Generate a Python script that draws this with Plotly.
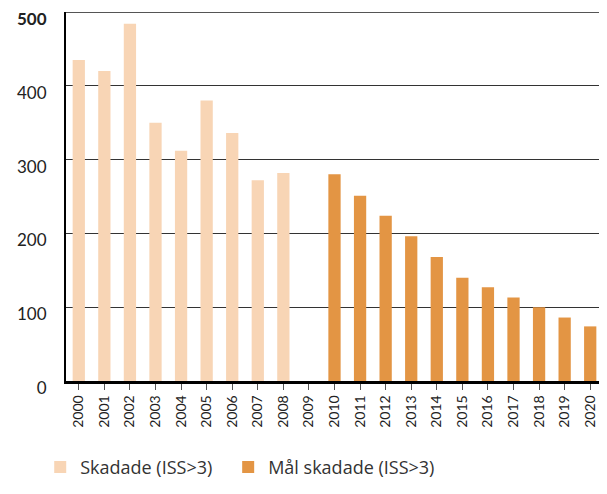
import plotly.graph_objects as go

years = [str(y) for y in range(2000, 2021)]
skadade = [435, 420, 484, 350, 312, 380, 336, 272, 282, None, None,
           None, None, None, None, None, None, None, None, None, None]
mal_skadade = [None] * 10 + [280, 251, 224, 196, 168, 140, 127, 113, 100, 86, 74]
y_ticks = [0, 100, 200, 300, 400, 500]
y_ticktext = ["0", "100", "200", "300", "400", "<b>500</b>"]

fig = go.Figure()
fig.add_trace(go.Bar(x=years, y=skadade, name="Skadade (ISS>3)",
                     marker=dict(color="#F8D5B5", line=dict(width=0)),
                     legend="legend"))
fig.add_trace(go.Bar(x=years, y=mal_skadade, name="Mål skadade (ISS>3)",
                     marker=dict(color="#E39544", line=dict(width=0)),
                     legend="legend2"))

legend_font = dict(size=18, color="#333333", family="Open Sans")

# page body adds an 8px offset, so the figure is a bit smaller than the window
fig.update_layout(
    width=599, height=486,
    margin=dict(l=58, r=4, t=4, b=113, autoexpand=False),
    barmode="overlay", bargap=0.52,
    plot_bgcolor="white", paper_bgcolor="white",
    font=dict(family="Lato", color="#222222"),
    legend=dict(orientation="h", x=-0.048, xanchor="left", y=-0.234, yanchor="middle",
                font=legend_font, itemwidth=30),
    legend2=dict(orientation="h", x=0.302, xanchor="left", y=-0.234, yanchor="middle",
                 font=legend_font, itemwidth=30),
    showlegend=True,
)
fig.update_xaxes(
    type="category", tickangle=-90, tickfont=dict(size=14),
    showline=True, linecolor="black", linewidth=2.5,
    ticks="outside", ticklen=6, tickcolor="#555555",
    showgrid=False,
)
fig.update_yaxes(
    range=[0, 500], tickvals=y_ticks, ticktext=y_ticktext,
    tickfont=dict(size=17), ticklabelstandoff=14,
    ticklabelshift=7, ticklabeloverflow="allow",
    showline=True, linecolor="black", linewidth=2,
    showgrid=True, gridcolor="#333333", gridwidth=1.2,
    zeroline=False, ticks="",
)
# top border at 500
fig.add_shape(type="line", xref="paper", yref="y", x0=0, x1=1, y0=500, y1=500,
              line=dict(color="#555555", width=2))

fig.write_html("out.html")
